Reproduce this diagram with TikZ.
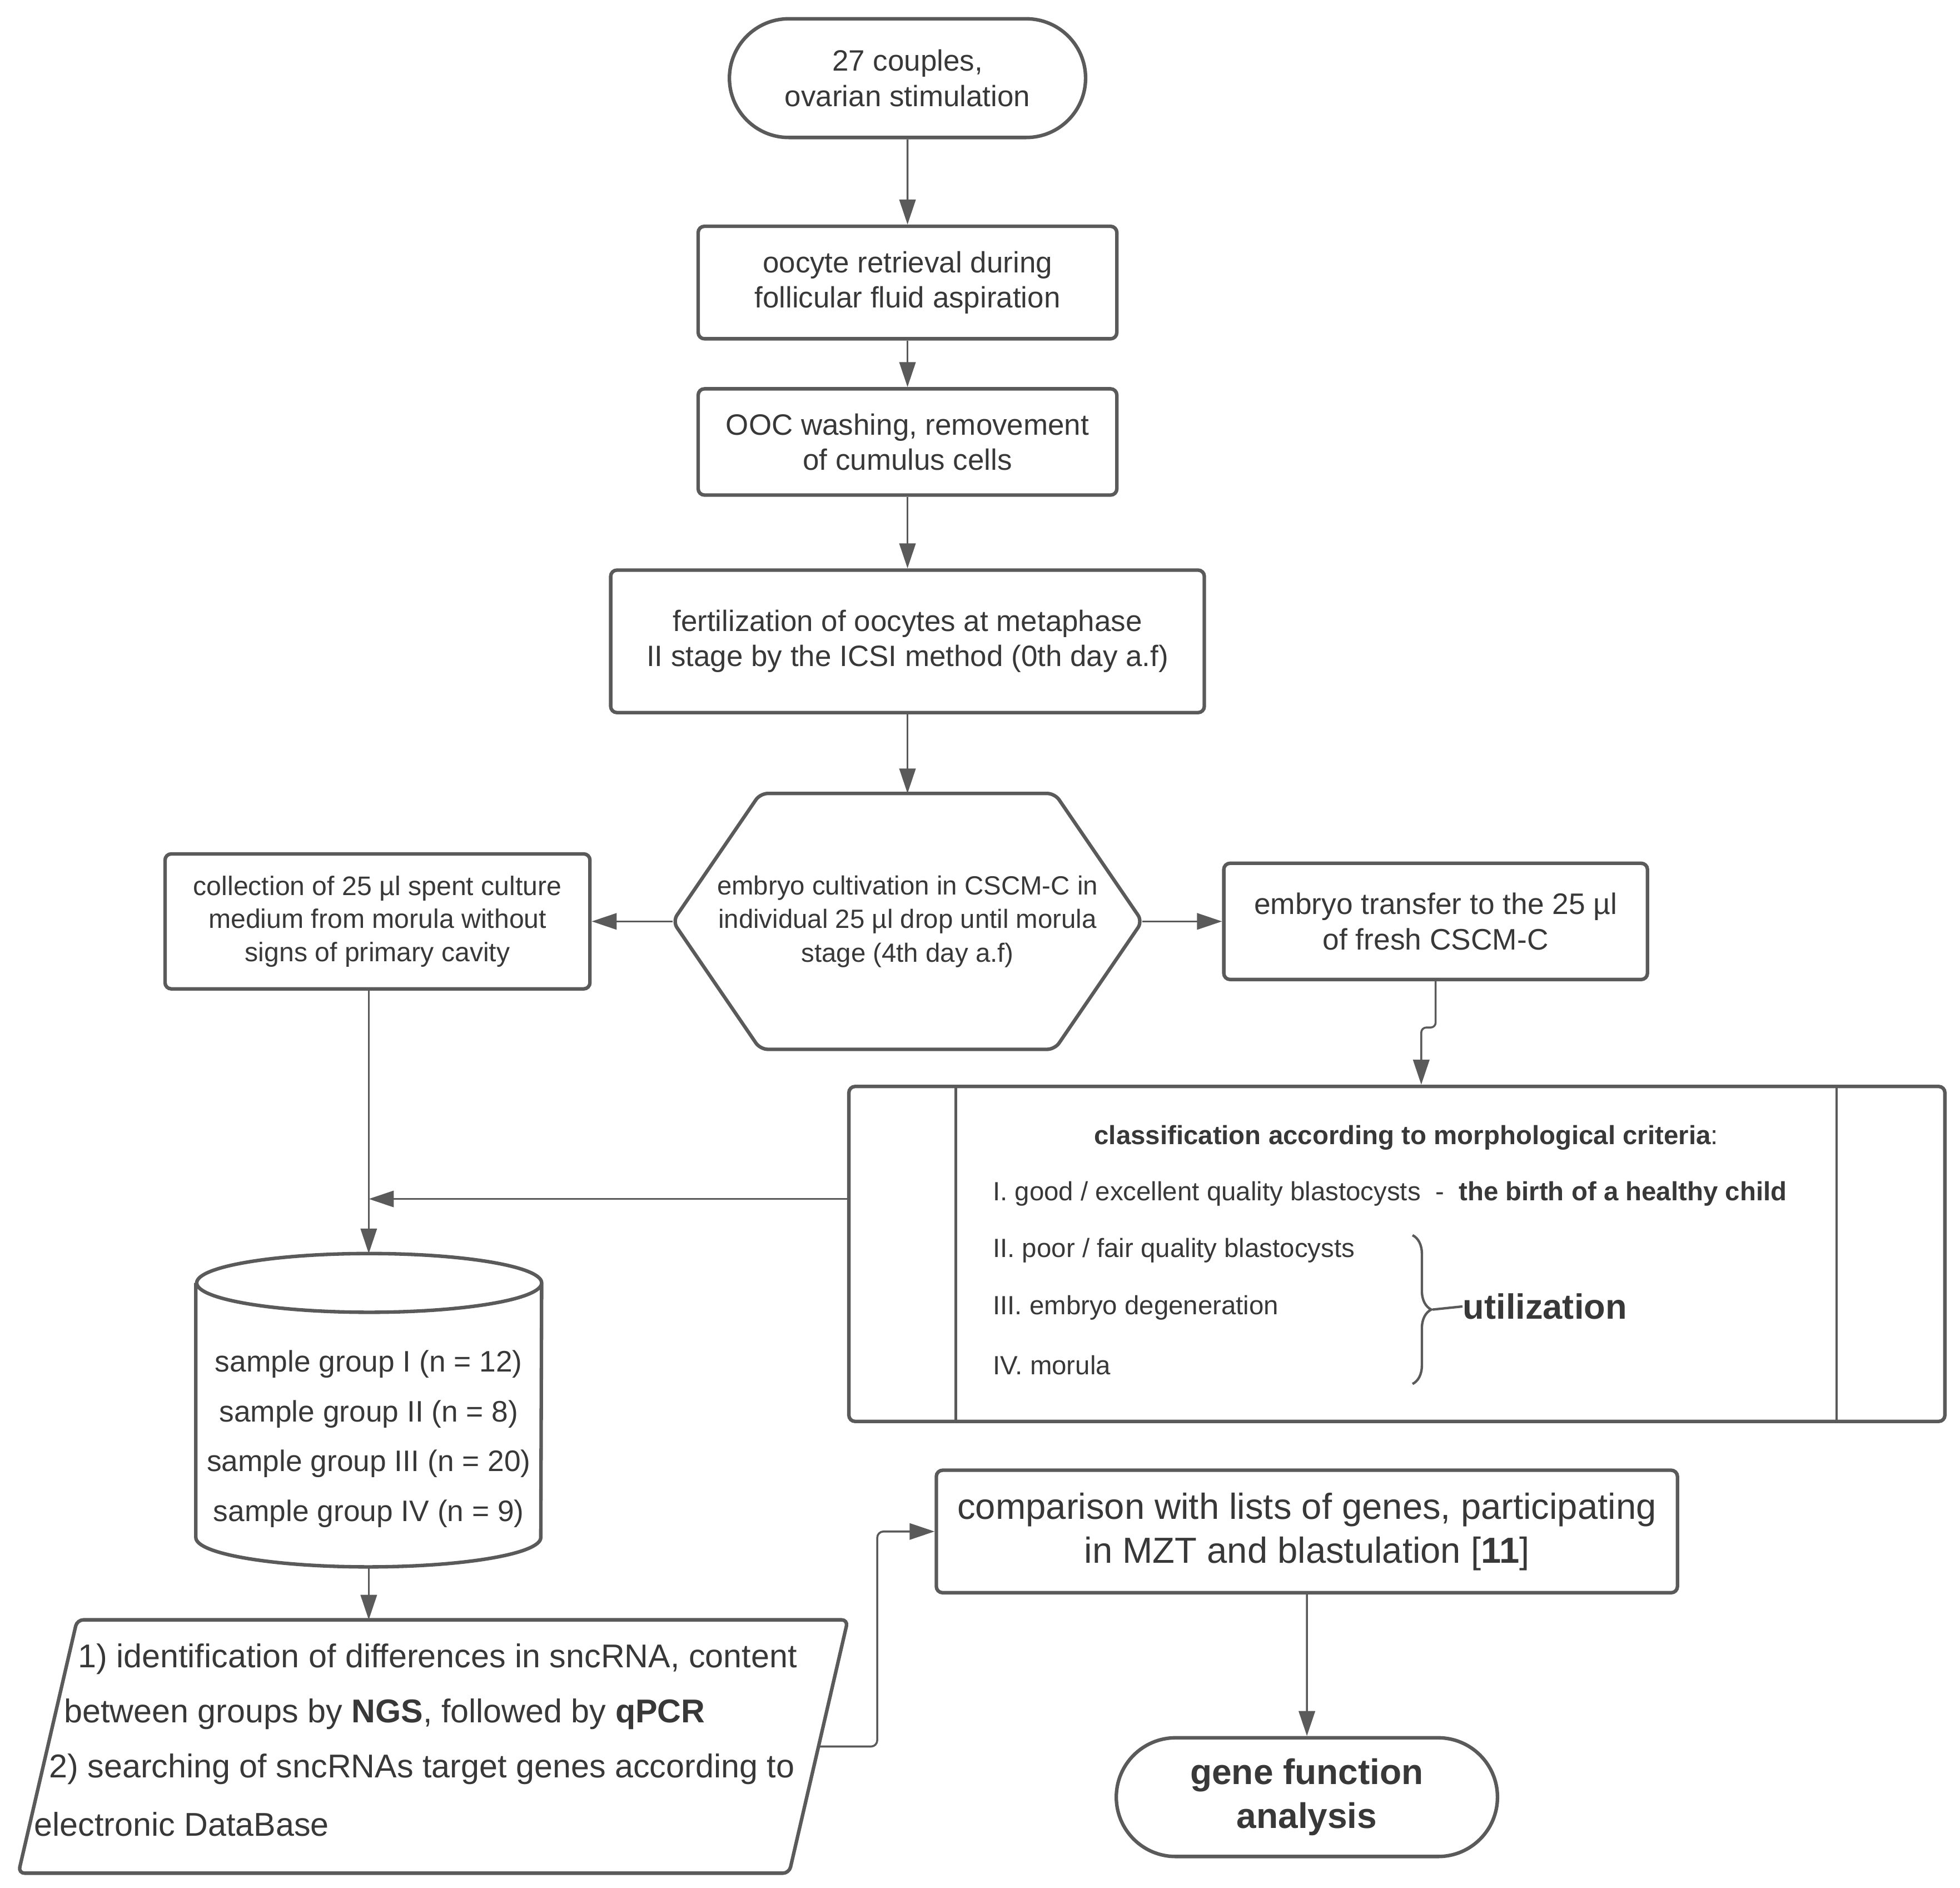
\documentclass[tikz,border=0pt]{standalone}
\usepackage{fontspec}
\setmainfont{Liberation Sans}
\usetikzlibrary{arrows.meta,shapes.misc,decorations.pathreplacing}
\definecolor{ln}{HTML}{5A5A5A}
\definecolor{tx}{HTML}{383838}
\begin{document}
\begin{tikzpicture}[x=0.02cm,y=-0.02cm,>={Triangle[length=0.4cm,width=0.26cm]},
	box/.style={draw=ln,line width=1.6pt,rounded corners=0.1cm,text=tx,align=center,inner sep=0pt},
	term/.style={draw=ln,line width=1.6pt,rounded rectangle,text=tx,align=center,inner sep=0pt},
	flow/.style={->,draw=ln,line width=0.9pt},
	txt/.style={text=tx,inner sep=0pt}]
	\useasboundingbox (0,0) rectangle (1568,1509.8);
	\node[term,minimum width=5.7cm,minimum height=1.9cm,font=\fontsize{13.4}{16}\selectfont] (couples) at (726,62.5) {27 couples,\\ovarian stimulation};
	\node[box,minimum width=6.7cm,minimum height=1.8cm,font=\fontsize{13.4}{16}\selectfont] (oocyte) at (726,226) {oocyte retrieval during\\follicular fluid aspiration};
	\node[box,minimum width=6.7cm,minimum height=1.7cm,font=\fontsize{13.4}{16}\selectfont] (washing) at (726,353.5) {OOC washing, removement\\of cumulus cells};
	\node[box,minimum width=9.5cm,minimum height=2.28cm,font=\fontsize{13.4}{16}\selectfont] (fert) at (726,513) {fertilization of oocytes at metaphase\\II stage by the ICSI method (0th day a.f)};
	\node[txt,align=center,minimum width=7.5cm,minimum height=4.08cm,font=\fontsize{12}{15.3}\selectfont] (culture) at (726,737) {embryo cultivation in CSCM-C in\\individual 25 µl drop until morula\\stage (4th day a.f)};
	\draw[ln,line width=1.6pt,rounded corners=0.12cm] (culture.west)--([xshift=1.4cm]culture.north west)--([xshift=-1.4cm]culture.north east)--(culture.east)--([xshift=-1.4cm]culture.south east)--([xshift=1.4cm]culture.south west)--cycle;
	\node[box,minimum width=6.8cm,minimum height=2.16cm,font=\fontsize{12.2}{15}\selectfont] (collect) at (302,737) {collection of 25 µl spent culture\\medium from morula without\\signs of primary cavity};
	\node[box,minimum width=6.78cm,minimum height=1.86cm,font=\fontsize{13.5}{16.4}\selectfont] (transfer) at (1148.5,737) {embryo transfer to the 25 µl\\of fresh CSCM-C};
	\node[box,minimum width=17.54cm,minimum height=5.36cm] (classif) at (1117.5,1003) {};
	\draw[ln,line width=1.1pt] ([xshift=1.74cm]classif.north west)--([xshift=1.74cm]classif.south west)([xshift=-1.76cm]classif.north east)--([xshift=-1.76cm]classif.south east);
	\node[txt,font=\fontsize{12}{15}\selectfont] (criteria) at (1125,910) {\textbf{classification according to morphological criteria}:};
	\node[txt,anchor=west,font=\fontsize{12}{15}\selectfont] (good) at (794,955) {I. good / excellent quality blastocysts\ \ -\ \ \textbf{the birth of a healthy child}};
	\node[txt,anchor=west,font=\fontsize{12}{15}\selectfont] (poor) at (794,1000) {II. poor / fair quality blastocysts};
	\node[txt,anchor=west,font=\fontsize{12}{15}\selectfont] (degen) at (794,1046) {III. embryo degeneration};
	\node[txt,anchor=west,font=\fontsize{12}{15}\selectfont] (morula) at (794,1092) {IV. morula};
	\draw[ln,line width=1.1pt,decorate,decoration={brace,amplitude=0.3cm}] (1130,988)--(1130,1107);
	\coordinate (tip) at (1146,1047.5);
	\node[txt,anchor=west,font=\bfseries\fontsize{16}{19}\selectfont] (util) at (1170,1045) {utilization};
	\draw[ln,line width=1.1pt] (tip)--(util.west);
	\node[minimum width=5.52cm,minimum height=5cm,inner sep=0pt] (samples) at (295,1128) {};
	\draw[ln,line width=1.6pt] ([yshift=-0.47cm]samples.north west)--([yshift=0.47cm]samples.south west)arc[start angle=180,end angle=360,x radius=2.76cm,y radius=0.47cm]--([yshift=-0.47cm]samples.north east)arc[start angle=0,end angle=180,x radius=2.76cm,y radius=0.47cm]arc[start angle=180,end angle=360,x radius=2.76cm,y radius=0.47cm];
	\node[txt,align=center,font=\fontsize{13.5}{22.7}\selectfont] (groups) at (295,1151) {sample group I (n = 12)\\sample group II (n = 8)\\sample group III (n = 20)\\sample group IV (n = 9)};
	\node[minimum width=13.26cm,minimum height=4.04cm,inner sep=0pt] (search) at (346.5,1397) {};
	\draw[ln,line width=1.6pt,rounded corners=0.1cm] ([xshift=0.94cm]search.north west)--(search.north east)--([xshift=-0.94cm]search.south east)--(search.south west)--cycle;
	\coordinate (searchout) at ([xshift=-0.47cm]search.east);
	\node[txt,anchor=west,font=\fontsize{15}{18}\selectfont] (line1) at (62,1327) {1) identification of differences in sncRNA, content};
	\node[txt,anchor=west,font=\fontsize{15}{18}\selectfont] (line2) at (51,1371) {between groups by \textbf{NGS}, followed by \textbf{qPCR}};
	\node[txt,anchor=west,font=\fontsize{15}{18}\selectfont] (line3) at (39,1415) {2) searching of sncRNAs target genes according to};
	\node[txt,anchor=west,font=\fontsize{15}{18}\selectfont] (line4) at (27,1459) {electronic DataBase};
	\node[box,minimum width=11.86cm,minimum height=1.96cm,font=\fontsize{16.5}{20}\selectfont] (compare) at (1045.5,1225) {comparison with lists of genes, participating\\in MZT and blastulation [\textbf{11}]};
	\node[term,minimum width=6.1cm,minimum height=1.9cm,font=\bfseries\fontsize{16.2}{20}\selectfont] (result) at (1045.5,1437.5) {gene function\\analysis};
	\draw[flow] (couples)--(oocyte);
	\draw[flow] (oocyte)--(washing);
	\draw[flow] (washing)--(fert);
	\draw[flow] (fert)--(culture);
	\draw[flow] (culture)--(collect);
	\draw[flow] (culture)--(transfer);
	\draw[flow,rounded corners=0.08cm] (transfer.south)--++(0,37)-|([xshift=0.39cm]classif.north);
	\draw[flow] (collect.south -| samples.north)--(samples.north);
	\coordinate (sortout) at ([yshift=0.88cm]classif.west);
	\draw[flow] (sortout)--(sortout -| samples.north);
	\draw[flow] (samples.south)--(samples.south |- search.north);
	\draw[flow,rounded corners=0.1cm] (searchout)--++(47,0)|-(compare.west);
	\draw[flow] (compare)--(result);
\end{tikzpicture}
\end{document}
